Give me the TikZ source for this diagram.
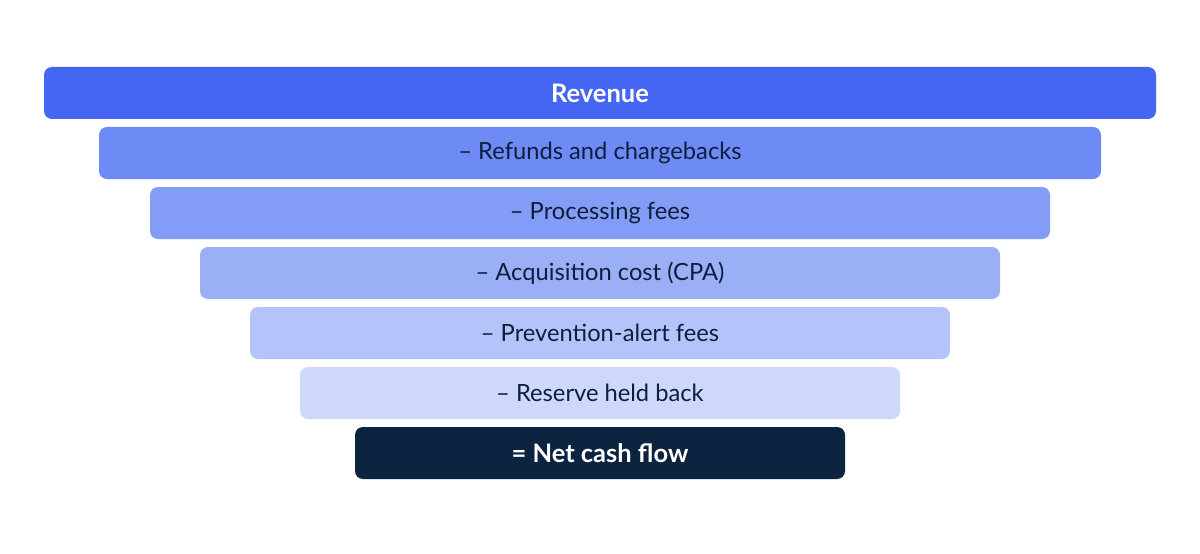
\documentclass[tikz,border=0pt]{standalone}
\usepackage{fontspec}
\setmainfont{Lato}
\definecolor{c1}{HTML}{4466F2}
\definecolor{c2}{HTML}{6E8AF4}
\definecolor{c3}{HTML}{839CF5}
\definecolor{c4}{HTML}{9BAFF7}
\definecolor{c5}{HTML}{B4C3F9}
\definecolor{c6}{HTML}{CED8FB}
\definecolor{c7}{HTML}{0C2440}
\definecolor{txt}{HTML}{0F1E3C}
\begin{document}
\begin{tikzpicture}[x=0.02cm,y=-0.02cm,
  bar/.style={rounded corners=0.16cm,draw=none,inner sep=0pt,font=\fontsize{13.5}{16}\selectfont,text=txt}]
\useasboundingbox[fill=white] (0,0) rectangle (1200,554);
\newcommand\mybar[6]{\fill[#5,rounded corners=0.16cm] (#1,#3) rectangle (#2,#4);
  \node[bar,#6] (#5n) at ({(#1+#2)/2},{(#3+#4)/2}) {};}
\fill[c1,rounded corners=0.16cm] (44,67) rectangle (1156,119);
\node[bar,text=white,font=\fontsize{14.5}{16}\selectfont\bfseries] (r) at (600,93) {Revenue};
\fill[c2,rounded corners=0.16cm] (99,127) rectangle (1101,179);
\node[bar] (a) at (600,153) {– Refunds and chargebacks};
\fill[c3,rounded corners=0.16cm] (150,187) rectangle (1050,239);
\node[bar] (b) at (600,213) {– Processing fees};
\fill[c4,rounded corners=0.16cm] (200,247) rectangle (1000,299);
\node[bar] (c) at (600,273) {– Acquisition cost (CPA)};
\fill[c5,rounded corners=0.16cm] (250,307) rectangle (950,359);
\node[bar] (d) at (600,333) {– Prevention-alert fees};
\fill[c6,rounded corners=0.16cm] (300,367) rectangle (900,419);
\node[bar] (e) at (600,393) {– Reserve held back};
\fill[c7,rounded corners=0.16cm] (355,427) rectangle (845,479);
\node[bar,text=white,font=\fontsize{14.5}{16}\selectfont\bfseries] (f) at (600,453) {= Net cash flow};
\end{tikzpicture}
\end{document}
